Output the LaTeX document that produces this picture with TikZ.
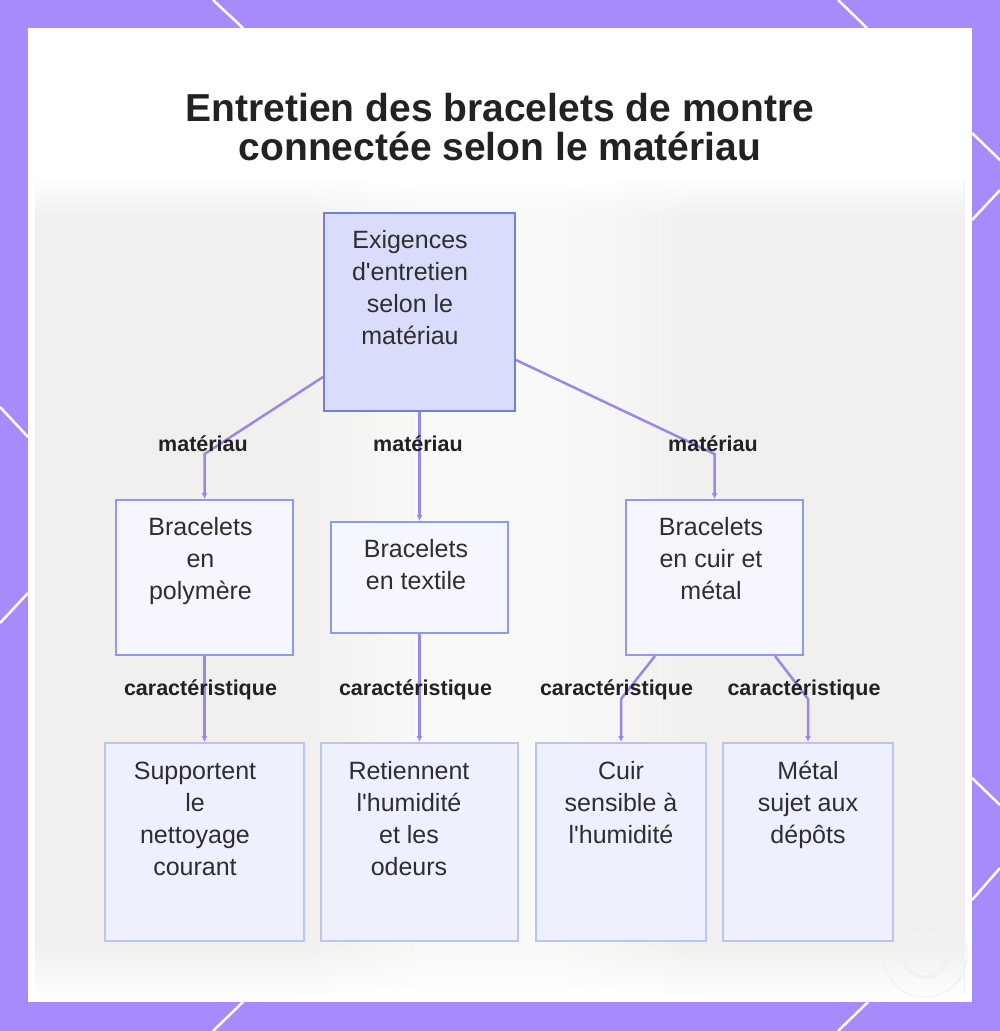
\documentclass[tikz,border=0pt]{standalone}
\usepackage{fontspec}
\setmainfont{Liberation Sans}
\usetikzlibrary{arrows.meta,fadings}
\definecolor{framecol}{HTML}{A78BFA}
\definecolor{photobg}{HTML}{F1F0EF}
\definecolor{rootfill}{HTML}{DADCFB}
\definecolor{rootline}{HTML}{7480D8}
\definecolor{midfill}{HTML}{F5F6FE}
\definecolor{midline}{HTML}{8C9CEB}
\definecolor{leaffill}{HTML}{EEF0FD}
\definecolor{leafline}{HTML}{BBC5F2}
\definecolor{edgecol}{HTML}{9D86E9}
\definecolor{txtcol}{HTML}{2E2E2E}
\definecolor{lblcol}{HTML}{222222}
\begin{document}
\begin{tikzpicture}[x=1pt,y=-1pt,
  rootbox/.style={draw=rootline, fill=rootfill, line width=2pt, minimum width=191pt, minimum height=198pt, inner sep=0pt},
  midbox/.style={draw=midline, fill=midfill, line width=2pt, minimum width=177pt, inner sep=0pt},
  leafbox/.style={draw=leafline, fill=leaffill, line width=2pt, minimum height=198pt, inner sep=0pt},
  boxtext/.style={anchor=north, align=center, inner sep=0pt, text=txtcol, font=\fontsize{25}{32}\selectfont},
  lbl/.style={anchor=base, inner sep=0pt, text=lblcol, font=\bfseries\fontsize{21.5}{24}\selectfont},
  edge/.style={draw=edgecol, line width=2.5pt, -{Latex[length=6pt,width=6pt]}},
  deco/.style={draw=white, line width=2.5pt}]
\useasboundingbox (0,0) rectangle (1000,1031);
% frame
\fill[framecol] (0,0) rectangle (1000,1031);
\draw[deco] (213,0) -- (243,28);
\draw[deco] (838,0) -- (867,28);
\draw[deco] (243,1002) -- (213,1031);
\draw[deco] (868,1002) -- (838,1031);
\draw[deco] (0,407) -- (28,437);
\draw[deco] (28,593) -- (0,623);
\draw[deco] (972,133) -- (1000,160);
\draw[deco] (1000,190) -- (972,220);
\draw[deco] (972,778) -- (1000,805);
\draw[deco] (1000,868) -- (972,900);
\fill[white] (28,28) rectangle (972,1002);
% blurred photo background
\fill[photobg] (35,180) rectangle (965,995);
\shade[left color=photobg, right color=white!60!photobg] (300,180) rectangle (420.5,995);
\fill[white!60!photobg] (420,180) rectangle (560.5,995);
\shade[left color=white!60!photobg, right color=photobg] (560,180) rectangle (700,995);
\fill[white, path fading=south] (35,178) rectangle (965,218);
\fill[white, path fading=north] (35,945) rectangle (965,997);
\draw[gray!12, line width=1pt] (925,955) circle (42);
\draw[gray!10, line width=4pt] (925,955) circle (22);
% title
\node[anchor=north, align=center, inner sep=0pt, text=lblcol, font=\bfseries\fontsize{39}{39}\selectfont] (title) at (500,79)
  {\rule{0pt}{42pt}Entretien des bracelets de montre\\connectée selon le matériau};
% boxes
\node[rootbox] (root) at (419.5,312) {};
\node[midbox, minimum height=155pt] (poly) at (204.5,577.5) {};
\node[midbox, minimum height=111pt] (textile) at (419.5,577.5) {};
\node[midbox, minimum height=155pt] (cuir) at (714.5,577.5) {};
\node[leafbox, minimum width=199pt] (supp) at (204.5,842) {};
\node[leafbox, minimum width=197pt] (ret) at (419.5,842) {};
\node[leafbox, minimum width=170pt] (cuirs) at (621,842) {};
\node[leafbox, minimum width=170pt] (metal) at (808,842) {};
% texts
\node[boxtext] (rootT) at (410,224) {\rule{0pt}{24pt}Exigences\\d\textquotesingle entretien\\selon le\\matériau};
\node[boxtext] (polyT) at (200.5,511) {\rule{0pt}{24pt}Bracelets\\en\\polymère};
\node[boxtext] (textileT) at (416,533) {\rule{0pt}{24pt}Bracelets\\en textile};
\node[boxtext] (cuirT) at (711,511) {\rule{0pt}{24pt}Bracelets\\en cuir et\\métal};
\node[boxtext] (suppT) at (195,755) {\rule{0pt}{24pt}Supportent\\le\\nettoyage\\courant};
\node[boxtext] (retT) at (409,755) {\rule{0pt}{24pt}Retiennent\\l\textquotesingle humidité\\et les\\odeurs};
\node[boxtext] (cuirsT) at (621,755) {\rule{0pt}{24pt}Cuir\\sensible à\\l\textquotesingle humidité};
\node[boxtext] (metalT) at (808,755) {\rule{0pt}{24pt}Métal\\sujet aux\\dépôts};
% connectors
\draw[edge] ([yshift=-65pt]root.west) -- ([yshift=45pt]poly.north) -- (poly.north);
\draw[edge] (root.south) -- (textile.north);
\draw[edge] ([yshift=-48pt]root.east) -- ([yshift=45pt]cuir.north) -- (cuir.north);
\draw[edge] (poly.south) -- (supp.north);
\draw[edge] (textile.south) -- (ret.north);
\draw[edge] ([xshift=-59.5pt]cuir.south) -- ([yshift=43pt]cuirs.north) -- (cuirs.north);
\draw[edge] ([xshift=60.5pt]cuir.south) -- ([yshift=43pt]metal.north) -- (metal.north);
% labels
\node[lbl] (l1) at (203,451) {matériau};
\node[lbl] (l2) at (418,451) {matériau};
\node[lbl] (l3) at (713,451) {matériau};
\node[lbl] (l4) at (200.5,695) {caractéristique};
\node[lbl] (l5) at (415.5,695) {caractéristique};
\node[lbl] (l6) at (616.5,695) {caractéristique};
\node[lbl] (l7) at (804,695) {caractéristique};
\end{tikzpicture}
\end{document}
